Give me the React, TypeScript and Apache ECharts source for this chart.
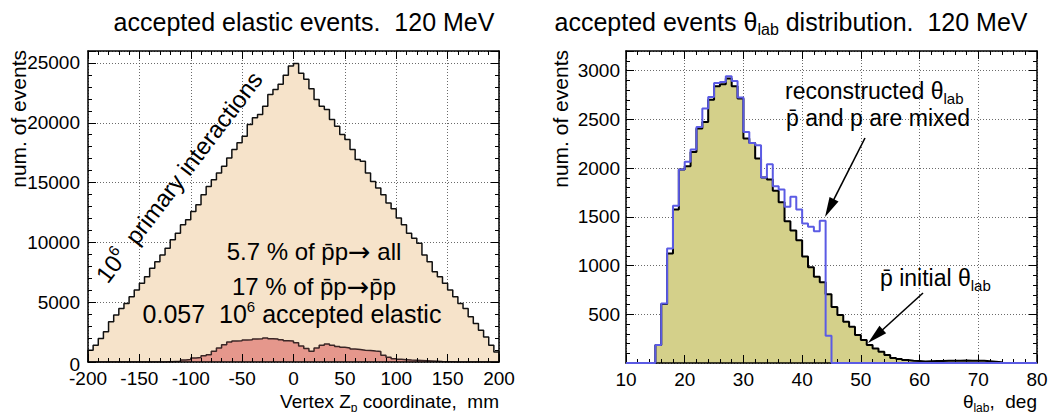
import React, { useEffect, useRef } from 'react';
import * as echarts from 'echarts';

// ---------------- data ----------------
// Left panel: vertex Z, 80 bins of 5 mm from -200 to 200
const zRange = [-200, 200];
const zBinWidth = 5;
const primaryInteractions = [
  980, 1400, 1960, 2520, 3360, 3920, 4480, 4900, 5450, 6020,
  6580, 7130, 7840, 8390, 8950, 9510, 10210, 10770, 11470, 11890,
  12580, 13150, 13990, 14680, 15240, 15800, 16360, 17060, 17760, 18320,
  18880, 19860, 20420, 20700, 21390, 22370, 22790, 23210, 23970, 24750,
  24950, 24130, 23630, 22850, 21950, 21390, 21110, 20280, 19710, 19020,
  18600, 17760, 16920, 16780, 15800, 15100, 14550, 13990, 13290, 12810,
  12030, 11470, 10770, 10350, 9930, 8950, 8390, 7550, 7130, 6580,
  6020, 5450, 4900, 4480, 3780, 3220, 2660, 2100, 1400, 840,
];
const acceptedElastic = [
  0, 0, 0, 0, 0, 0, 0, 0, 0, 0,
  0, 0, 0, 0, 0, 20, 40, 60, 170, 210,
  340, 380, 520, 600, 900, 1180, 1450, 1680, 1750, 1770,
  1840, 1860, 1920, 1940, 2010, 1950, 1920, 1850, 1770, 1750,
  1600, 1340, 1120, 900, 1180, 1400, 1510, 1400, 1290, 1230,
  1180, 1080, 1040, 990, 960, 910, 870, 560, 400, 280,
  220, 190, 160, 140, 120, 100, 80, 60, 40, 30,
  15, 0, 0, 0, 0, 0, 0, 0, 0, 0,
];
// Right panel: theta_lab, 70 bins of 1 deg from 10 to 80
const thetaRange = [10, 80];
const thetaBinWidth = 1;
const thetaInitial = [
  0, 0, 0, 0, 0, 184, 605, 1124, 1575, 1984,
  2018, 2165, 2404, 2473, 2701, 2838, 2859, 2917, 2838, 2712,
  2302, 2257, 2097, 1902, 1882, 1766, 1650, 1455, 1360, 1260,
  1093, 981, 885, 828, 705, 575, 492, 423, 372, 287,
  236, 184, 150, 116, 82, 52, 40, 30, 24, 20,
  16, 18, 20, 20, 22, 22, 24, 26, 24, 24,
  22, 18, 14, 8, 0, 0, 0, 0, 0, 0,
];
const thetaReconstructed = [
  0, 0, 0, 0, 0, 184, 611, 1175, 1612, 1984,
  2063, 2189, 2421, 2609, 2729, 2872, 2882, 2941, 2893, 2722,
  2370, 2257, 2234, 1902, 2039, 1814, 1779, 1602, 1704, 1574,
  1431, 1397, 1352, 1458, 280, 0, 0, 0, 0, 0,
  0, 0, 0, 0, 0, 0, 0, 0, 0, 0,
  0, 0, 0, 0, 0, 0, 0, 0, 0, 0,
  0, 0, 0, 0, 0, 0, 0, 0, 0, 0,
];
// axis scales
const zAxis = { min: -200, max: 200, major: 50, minorSplit: 5 };
const zCountAxis = { min: 0, max: 26000, major: 5000, minor: 1000 };
const thetaAxis = { min: 10, max: 80, major: 10, minorSplit: 5 };
const thetaCountAxis = { min: 0, max: 3200, major: 500, minor: 100 };

// ---------------- helpers ----------------
const FONT = '"Liberation Sans", Arial, Helvetica, sans-serif';
const TICK_FONT = 19;
const TITLE_FONT = 21;

function histPoints(lo: number, w: number, vals: number[]) {
  const pts: number[][] = [[lo, 0]];
  vals.forEach((v, i) => pts.push([lo + i * w, v]));
  const hi = lo + vals.length * w;
  pts.push([hi, vals[vals.length - 1]]);
  pts.push([hi, 0]);
  return pts;
}

const dotted = { show: true, lineStyle: { color: '#444', width: 0.8, type: [1, 2] as any } };

function mainX(g: number, a: any) {
  return {
    type: 'value', gridIndex: g, min: a.min, max: a.max, interval: a.major, position: 'bottom',
    axisLine: { show: false, onZero: false }, axisTick: { show: false }, minorTick: { show: false },
    splitLine: dotted,
    axisLabel: { fontSize: TICK_FONT, fontFamily: FONT, color: '#000', margin: 7 },
  };
}
function tickX(g: number, a: any, pos: string) {
  return {
    type: 'value', gridIndex: g, min: a.min, max: a.max, interval: a.major, position: pos, z: 6,
    axisLine: { show: true, onZero: false, lineStyle: { color: '#000', width: 1.5 } },
    axisTick: { show: true, inside: true, length: 8, lineStyle: { color: '#000', width: 1 } },
    minorTick: { show: true, splitNumber: a.minorSplit, length: 4, lineStyle: { color: '#000', width: 1 } },
    splitLine: { show: false }, axisLabel: { show: false },
  };
}
function mainY(g: number, a: any, margin: number, formatter: any, rich?: any) {
  return {
    type: 'value', gridIndex: g, min: a.min, max: a.max, interval: a.major, position: 'left',
    axisLine: { show: false, onZero: false }, axisTick: { show: false }, minorTick: { show: false },
    splitLine: dotted,
    axisLabel: { fontSize: TICK_FONT, fontFamily: FONT, color: '#000', margin, formatter, rich },
  };
}
function tickY(g: number, a: any, pos: string, step: number, len: number, line: boolean) {
  return {
    type: 'value', gridIndex: g, min: a.min, max: a.max, interval: step, position: pos, z: 6,
    axisLine: { show: line, onZero: false, lineStyle: { color: '#000', width: 1.5 } },
    axisTick: { show: true, inside: true, length: len, lineStyle: { color: '#000', width: 1 } },
    minorTick: { show: false }, splitLine: { show: false }, axisLabel: { show: false },
  };
}

function txt(x: number, y: number, text: string, size: number, align: string, rich?: any, rotation = 0) {
  return {
    type: 'text', x, y, rotation, z: 100,
    style: {
      text, fill: '#000', fontSize: size, fontFamily: FONT,
      textAlign: align, textVerticalAlign: 'middle', align, verticalAlign: 'middle',
      rich,
    },
  };
}
function richSet(size: number, small: number) {
  return {
    t: { fontSize: size, fontFamily: FONT, lineHeight: size + 6, fill: '#000' },
    s: { fontSize: small, fontFamily: FONT, lineHeight: small, verticalAlign: 'bottom', fill: '#000' },
    u: { fontSize: small, fontFamily: FONT, lineHeight: small, verticalAlign: 'top', fill: '#000' },
    a: { fontSize: size + 3, fontFamily: '"DejaVu Sans", sans-serif', lineHeight: size + 6, fill: '#000' },
  };
}
function arrow(x1: number, y1: number, x2: number, y2: number) {
  const dx = x2 - x1, dy = y2 - y1, L = Math.hypot(dx, dy);
  const ux = dx / L, uy = dy / L, hl = 20, hw = 5;
  const bx = x2 - ux * hl, by = y2 - uy * hl;
  return [
    { type: 'line', z: 100, shape: { x1, y1, x2: bx + ux * 4, y2: by + uy * 4 }, style: { stroke: '#000', lineWidth: 1.6 } },
    { type: 'polygon', z: 100, shape: { points: [[x2, y2], [bx - uy * hw, by + ux * hw], [bx + uy * hw, by - ux * hw]] }, style: { fill: '#000' } },
  ];
}

export default function App() {
  const ref = useRef<HTMLDivElement>(null);
  useEffect(() => {
    const chart = echarts.init(ref.current!, null, { renderer: 'svg' });
    const pMacron = 'p\u0304';
    const option: any = {
      animation: false,
      backgroundColor: '#fff',
      grid: [
        { left: 88, top: 51, width: 411, height: 311, containLabel: false, outerBoundsMode: 'none' },
        { left: 626, top: 51, width: 411, height: 312, containLabel: false, outerBoundsMode: 'none' },
      ],
      xAxis: [
        mainX(0, zAxis), tickX(0, zAxis, 'bottom'), tickX(0, zAxis, 'top'),
        mainX(1, thetaAxis), tickX(1, thetaAxis, 'bottom'), tickX(1, thetaAxis, 'top'),
      ],
      yAxis: [
        mainY(0, zCountAxis, 8,
          (v: number) => (v === 0 ? '{z|0}' : v % 5000 === 0 ? String(v) : ''),
          { z: { fontSize: TICK_FONT, fontFamily: FONT, color: '#000', padding: [5, 0, 0, 0] } }),
        tickY(0, zCountAxis, 'left', zCountAxis.major, 8, true),
        tickY(0, zCountAxis, 'left', zCountAxis.minor, 4, false),
        tickY(0, zCountAxis, 'right', zCountAxis.major, 8, true),
        tickY(0, zCountAxis, 'right', zCountAxis.minor, 4, false),
        mainY(1, thetaCountAxis, 6, (v: number) => (v > 0 && v % 500 === 0 ? String(v) : '')),
        tickY(1, thetaCountAxis, 'left', thetaCountAxis.major, 8, true),
        tickY(1, thetaCountAxis, 'left', thetaCountAxis.minor, 4, false),
        tickY(1, thetaCountAxis, 'right', thetaCountAxis.major, 8, true),
        tickY(1, thetaCountAxis, 'right', thetaCountAxis.minor, 4, false),
      ],
      series: [
        {
          name: 'primary', type: 'line', step: 'end', xAxisIndex: 0, yAxisIndex: 0, symbol: 'none', silent: true, z: 2,
          data: histPoints(zRange[0], zBinWidth, primaryInteractions),
          lineStyle: { color: '#111', width: 1.5 }, areaStyle: { color: '#f6e3ca', opacity: 1 },
        },
        {
          name: 'elastic', type: 'line', step: 'end', xAxisIndex: 0, yAxisIndex: 0, symbol: 'none', silent: true, z: 3,
          data: histPoints(zRange[0], zBinWidth, acceptedElastic),
          lineStyle: { color: '#3a2626', width: 1.5 }, areaStyle: { color: '#e5978c', opacity: 1 },
        },
        {
          name: 'initial', type: 'line', step: 'end', xAxisIndex: 3, yAxisIndex: 5, symbol: 'none', silent: true, z: 3,
          data: histPoints(thetaRange[0], thetaBinWidth, thetaInitial),
          lineStyle: { color: '#000', width: 2 }, areaStyle: { color: '#d4d08a', opacity: 1 },
        },
        {
          name: 'reconstructed', type: 'line', step: 'end', xAxisIndex: 3, yAxisIndex: 5, symbol: 'none', silent: true, z: 7,
          data: histPoints(thetaRange[0], thetaBinWidth, thetaReconstructed),
          lineStyle: { color: '#5b5be4', width: 2 },
        },
      ],
      graphic: [
        txt(304, 22, 'accepted elastic events.  120 MeV', 25, 'center'),
        txt(791, 22, '{t|accepted events θ}{s|lab}{t| distribution.  120 MeV}', 25, 'center', richSet(25, 16)),
        txt(18, 50, 'num. of events', TITLE_FONT, 'right', undefined, Math.PI / 2),
        txt(560, 50, 'num. of events', TITLE_FONT, 'right', undefined, Math.PI / 2),
        txt(499, 401, '{t|Vertex Z}{s|p}{t| coordinate,  mm}', 19, 'right', richSet(19, 12)),
        txt(1037, 401, '{t|θ}{s|lab}{t|,  deg}', 19, 'right', richSet(19, 12)),
        txt(179, 177, '{t|10}{u|6}{t|  primary interactions}', 24, 'center', richSet(24, 15), 0.92),
        txt(314, 251, `{t|5.7 % of ${pMacron}p}{a|\u2192}{t| all}`, 24, 'center', richSet(24, 15)),
        txt(314, 286, `{t|17 % of ${pMacron}p}{a|\u2192}{t|${pMacron}p}`, 24, 'center', richSet(24, 15)),
        txt(292, 314, '{t|0.057  10}{u|6}{t| accepted elastic}', 25, 'center', richSet(25, 15)),
        txt(785, 91, '{t|reconstructed θ}{s|lab}', 23, 'left', richSet(23, 15)),
        txt(786, 118, `${pMacron} and p are mixed`, 23, 'left'),
        txt(880, 278, `{t|${pMacron} initial θ}{s|lab}`, 23, 'left', richSet(23, 15)),
        ...arrow(865, 138, 825, 217),
        ...arrow(923, 293, 868, 343),
      ],
    };
    chart.setOption(option);
    return () => chart.dispose();
  }, []);
  return (
    <div
      ref={ref}
      style={{ position: 'absolute', left: 0, top: 0, width: 1051, height: 412, background: '#fff' }}
    />
  );
}
